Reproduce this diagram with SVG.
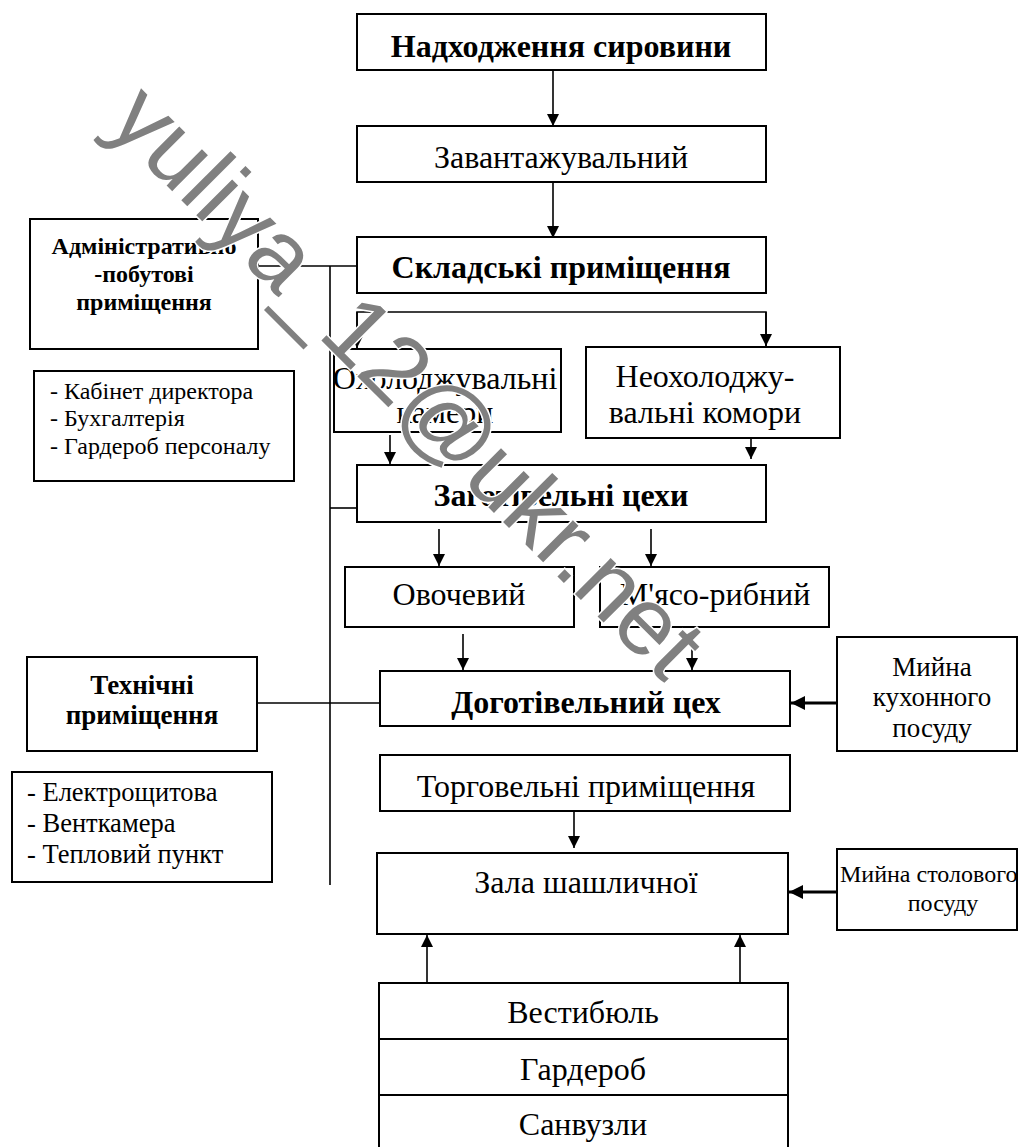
<svg xmlns="http://www.w3.org/2000/svg" width="1018" height="1147" viewBox="0 0 1018 1147">
<defs>
<style>
.box{fill:#fff;stroke:#000;stroke-width:2}
.t{font-family:"Liberation Serif","Times New Roman",serif;fill:#000;text-anchor:middle}
.b{font-weight:bold}
.l{text-anchor:start}
.c{fill:none;stroke:#000;stroke-width:1.6}
.ca{fill:none;stroke:#000;stroke-width:1.6;marker-end:url(#ah)}
.cb{fill:none;stroke:#000;stroke-width:3.2;marker-end:url(#ahb)}
.wm{font-family:"Liberation Sans",Arial,sans-serif;fill:#808080;stroke:#fff;stroke-width:3;paint-order:stroke}
</style>
<marker id="ah" markerUnits="userSpaceOnUse" markerWidth="12" markerHeight="16" refX="12" refY="6" orient="auto" viewBox="0 0 12 12">
<path d="M0,0 L12,6 L0,12 Z" fill="#000"/>
</marker>
<marker id="ahb" markerUnits="userSpaceOnUse" markerWidth="14" markerHeight="16" refX="12" refY="6" orient="auto" viewBox="0 0 12 12">
<path d="M0,0 L12,6 L0,12 Z" fill="#000"/>
</marker>
</defs>
<rect width="1018" height="1147" fill="#fff"/>

<g id="connectors">
<line class="ca" x1="553" y1="70" x2="553" y2="126"/>
<line class="ca" x1="553" y1="182" x2="553" y2="238"/>
<line class="c" x1="258" y1="266" x2="357" y2="266"/>
<line class="c" x1="330" y1="266" x2="330" y2="885"/>
<line class="c" x1="330" y1="508" x2="357" y2="508"/>
<line class="c" x1="257" y1="703" x2="380" y2="703"/>
<polyline class="c" points="357,348 357,312 766,312 766,348"/>
<line class="ca" x1="357" y1="312" x2="357" y2="348"/>
<line class="ca" x1="766" y1="312" x2="766" y2="346"/>
<line class="ca" x1="390" y1="435" x2="390" y2="464"/>
<line class="ca" x1="751" y1="430" x2="751" y2="459"/>
<line class="ca" x1="439" y1="529" x2="439" y2="566"/>
<line class="ca" x1="651" y1="529" x2="651" y2="566"/>
<line class="ca" x1="463" y1="634" x2="463" y2="670"/>
<line class="ca" x1="692" y1="633" x2="692" y2="670"/>
<line class="cb" x1="837" y1="703" x2="791" y2="703"/>
<line class="ca" x1="574" y1="811" x2="574" y2="848"/>
<line class="cb" x1="837" y1="892" x2="789" y2="892"/>
<line class="ca" x1="427" y1="983" x2="427" y2="935"/>
<line class="ca" x1="740" y1="983" x2="740" y2="935"/>
</g>

<g id="n-nadkhodzhennia"><rect class="box" x="357" y="14" width="409" height="56"/><text class="t b" x="561" y="57" font-size="32">Надходження сировини</text></g>
<g id="n-zavantazh"><rect class="box" x="357" y="126" width="409" height="56"/><text class="t" x="561" y="168" font-size="32">Завантажувальний</text></g>
<g id="n-skladski"><rect class="box" x="357" y="237" width="409" height="56"/><text class="t b" x="561" y="278" font-size="32">Складські приміщення</text></g>
<g id="n-admin"><rect class="box" x="30" y="219" width="228" height="130"/>
<text class="t b" x="144" y="254" font-size="24">Адміністративно</text>
<text class="t b" x="144" y="282" font-size="24">-побутові</text>
<text class="t b" x="144" y="310" font-size="24">приміщення</text></g>
<g id="n-admin-list"><rect class="box" x="34" y="371" width="260" height="110"/>
<text class="t l" x="50" y="399" font-size="24">- Кабінет директора</text>
<text class="t l" x="50" y="426" font-size="24">- Бухгалтерія</text>
<text class="t l" x="50" y="454" font-size="24">- Гардероб  персоналу</text></g>
<g id="n-okholodzh"><rect class="box" x="334" y="349" width="227" height="83"/>
<text class="t" x="445" y="389" font-size="32">Охолоджувальні</text>
<text class="t" x="445" y="423" font-size="32">камери</text></g>
<g id="n-neokholodzh"><rect class="box" x="586" y="347" width="254" height="91"/>
<text class="t" x="705" y="387" font-size="32">Неохолоджу-</text>
<text class="t" x="705" y="423" font-size="32">вальні комори</text></g>
<g id="n-zagotivelni"><rect class="box" x="357" y="465" width="409" height="57"/><text class="t b" x="561" y="506" font-size="32">Заготівельні цехи</text></g>
<g id="n-ovochevyi"><rect class="box" x="345" y="567" width="229" height="60"/><text class="t" x="459" y="605" font-size="32">Овочевий</text></g>
<g id="n-miaso"><rect class="box" x="600" y="567" width="229" height="60"/><text class="t" x="715" y="605" font-size="32">М'ясо-рибний</text></g>
<g id="n-tekhnichni"><rect class="box" x="27" y="657" width="230" height="94"/>
<text class="t b" x="142" y="694" font-size="27">Технічні</text>
<text class="t b" x="142" y="724" font-size="27">приміщення</text></g>
<g id="n-dogotivelnyi"><rect class="box" x="380" y="671" width="410" height="55"/><text class="t b" x="586" y="713" font-size="32">Доготівельний цех</text></g>
<g id="n-myina-kukh"><rect class="box" x="837" y="637" width="180" height="114"/>
<text class="t" x="932" y="676" font-size="27">Мийна</text>
<text class="t" x="932" y="706" font-size="27">кухонного</text>
<text class="t" x="932" y="737" font-size="27">посуду</text></g>
<g id="n-tekh-list"><rect class="box" x="12" y="772" width="260" height="110"/>
<text class="t l" x="27" y="801" font-size="26.5">- Електрощитова</text>
<text class="t l" x="27" y="832" font-size="26.5">- Венткамера</text>
<text class="t l" x="27" y="863" font-size="26.5">- Тепловий пункт</text></g>
<g id="n-torgovelni"><rect class="box" x="380" y="755" width="410" height="56"/><text class="t" x="586" y="797" font-size="32">Торговельні приміщення</text></g>
<g id="n-zala"><rect class="box" x="377" y="853" width="411" height="81"/><text class="t" x="586" y="893" font-size="32">Зала шашличної</text></g>
<g id="n-myina-stol"><rect class="box" x="837" y="849" width="180" height="81"/>
<text class="t l" x="840" y="882" font-size="24">Мийна столового</text>
<text class="t" x="943" y="911" font-size="24">посуду</text></g>
<g id="n-vestybiul"><rect class="box" x="379" y="983" width="409" height="56"/><text class="t" x="583" y="1023" font-size="32">Вестибюль</text></g>
<g id="n-garderob"><rect class="box" x="379" y="1039" width="409" height="56"/><text class="t" x="583" y="1080" font-size="32">Гардероб</text></g>
<g id="n-sanvuzly"><rect class="box" x="379" y="1095" width="409" height="56"/><text class="t" x="583" y="1135" font-size="32">Санвузли</text></g>

<text class="wm" x="0" y="0" font-size="96" transform="translate(105,124) rotate(45)">yuliya_12@ukr.net</text>
</svg>
